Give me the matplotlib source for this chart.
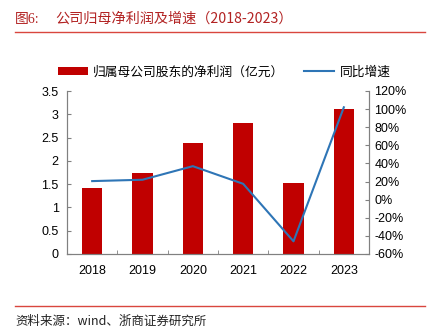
import matplotlib
matplotlib.use("Agg")
import matplotlib.pyplot as plt
from matplotlib.lines import Line2D
from matplotlib.patches import Patch
from matplotlib.ticker import FuncFormatter

plt.rcParams['font.family'] = ['Liberation Sans', 'Noto Sans CJK SC', 'DejaVu Sans']

years = ['2018', '2019', '2020', '2021', '2022', '2023']
net_profit = [1.42, 1.74, 2.38, 2.81, 1.52, 3.11]      # 亿元
yoy_growth = [20.5, 22.0, 37.0, 17.5, -46.0, 102.0]    # %

bar_color = '#C00000'
line_color = '#2E75B6'
spine_color = '#808080'

fig = plt.figure(figsize=(4.39, 3.35), dpi=100)
ax = fig.add_axes([67 / 439, 1 - 254 / 335, 302 / 439, 163 / 335])
ax2 = ax.twinx()

x = list(range(len(years)))
ax.bar(x, net_profit, width=0.4, color=bar_color, zorder=2)
ax2.plot(x, yoy_growth, color=line_color, lw=1.5, zorder=3)

ax.set_xlim(-0.5, len(years) - 0.5)
ax.set_ylim(0, 3.5)
ax.set_yticks([0, 0.5, 1, 1.5, 2, 2.5, 3, 3.5])
ax.set_yticklabels(['0', '0.5', '1', '1.5', '2', '2.5', '3', '3.5'])
ax2.set_ylim(-60, 120)
ax2.set_yticks(range(-60, 121, 20))
ax2.yaxis.set_major_formatter(FuncFormatter(lambda v, p: f'{int(v)}%'))

ax.set_xticks(x)
ax.set_xticklabels(years)
ax.set_xticks([i + 0.5 for i in range(-1, len(years))], minor=True)
ax.tick_params(axis='x', which='major', length=0, pad=8, labelsize=9)
ax.tick_params(axis='x', which='minor', direction='in', length=3, color=spine_color)
ax.tick_params(axis='y', direction='in', length=3, color=spine_color, labelsize=9, pad=6)
ax2.tick_params(axis='y', direction='in', length=3, color=spine_color, labelsize=9, pad=4)

for a in (ax, ax2):
    a.spines['top'].set_visible(False)
    for s in ('left', 'right', 'bottom'):
        a.spines[s].set_color(spine_color)
        a.spines[s].set_linewidth(0.8)

handles = [Patch(facecolor=bar_color, edgecolor='none'),
           Line2D([0], [0], color=line_color, lw=1.5)]
labels = ['归属母公司股东的净利润（亿元）', '同比增速']
fig.legend(handles, labels, loc='center left', bbox_to_anchor=(46 / 439, 1 - 72 / 335),
           ncol=2, frameon=False, handlelength=2.4, handleheight=0.6,
           columnspacing=1.5, handletextpad=0.4,
           prop={'family': ['Noto Sans CJK SC'], 'size': 9.2})

title_color = '#B22222'
fig.text(15 / 439, 1 - 19 / 335, '图6:', color=title_color, fontsize=10,
         family=['Liberation Serif', 'Noto Sans CJK SC'], va='center')
fig.text(55 / 439, 1 - 19 / 335, '公司归母净利润及增速（2018-2023）', color=title_color,
         fontsize=10.2, family=['Noto Sans CJK SC'], va='center')
fig.add_artist(Line2D([15 / 439, 425 / 439], [1 - 32 / 335, 1 - 32 / 335],
                      color='#D9463E', lw=1.0, transform=fig.transFigure))
fig.add_artist(Line2D([15 / 439, 425 / 439], [1 - 306 / 335, 1 - 306 / 335],
                      color='#D9463E', lw=1.0, transform=fig.transFigure))
fig.text(15 / 439, 1 - 321 / 335, '资料来源：wind、浙商证券研究所', color='#222222',
         fontsize=9, family=['Noto Sans CJK SC'], va='center')

fig.savefig('out.png', dpi=100)
